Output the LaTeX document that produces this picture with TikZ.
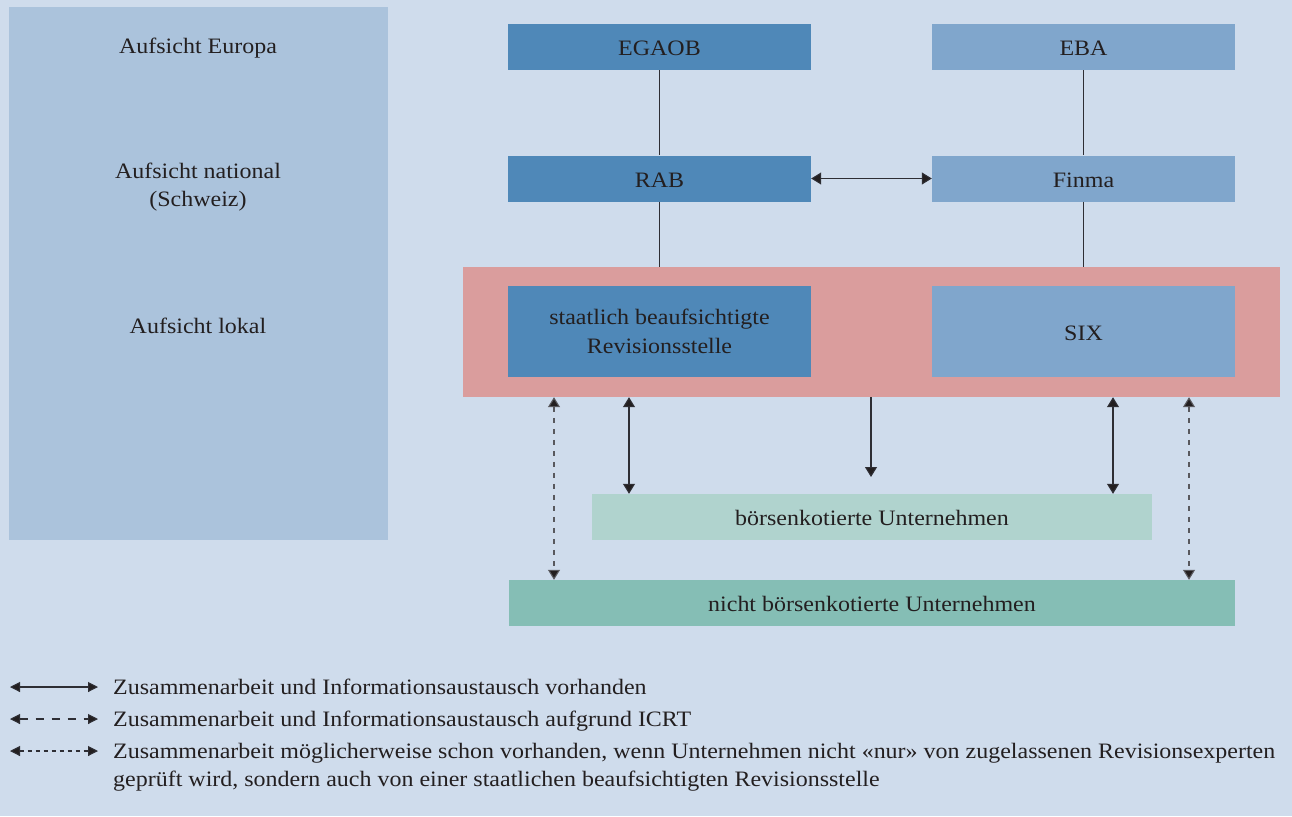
\documentclass[tikz,border=0pt]{standalone}
\usepackage{fontspec}
\setmainfont{Liberation Serif}[FakeStretch=1.09]
\usetikzlibrary{arrows.meta}
\definecolor{bg}{HTML}{CFDCEC}
\definecolor{panel}{HTML}{ABC3DC}
\definecolor{dblue}{HTML}{4F88B8}
\definecolor{lblue}{HTML}{80A6CC}
\definecolor{pink}{HTML}{DA9D9D}
\definecolor{mintl}{HTML}{B0D3CE}
\definecolor{mint}{HTML}{85BEB5}
\definecolor{txt}{HTML}{231F20}
\definecolor{ln}{HTML}{2E2E34}
\begin{document}
\begin{tikzpicture}[x=1pt,y=-1pt,
  lbl/.style={text=txt, font=\fontsize{22}{28.5}\selectfont, align=center, inner sep=0pt, text height=18pt, text depth=1pt},
  twoline/.style={text height=44pt},
  box/.style={lbl, minimum width=303pt, minimum height=46pt},
  conn/.style={draw=ln, line width=1.1pt},
  tipa/.tip={Triangle[length=10pt,width=12pt,fill=txt]},
  tipb/.tip={Triangle[length=10pt,width=10pt,fill=txt]},
  both/.style={conn, tipa-tipa},
  onearrow/.style={conn, -tipa},
  dotboth/.style={both, draw=ln!80, dash pattern=on 5pt off 6pt},
  legboth/.style={conn, tipb-tipb},
  legtext/.style={text=txt, font=\fontsize{22}{28}\selectfont, align=left, inner sep=0pt, anchor=base west}
]
\fill[bg] (0,0) rectangle (1292,816);
\useasboundingbox (0,0) rectangle (1292,816);

% left panel
\node[fill=panel, minimum width=379pt, minimum height=533pt, inner sep=0pt] (panel) at (198.5,273.5) {};
\node[lbl] (l1) at (198,45) {Aufsicht Europa};
\node[lbl, twoline] (l2) at (198,185) {Aufsicht national\\(Schweiz)};
\node[lbl] (l3) at (198,325) {Aufsicht lokal};

% pink local frame
\node[fill=pink, minimum width=817pt, minimum height=130pt, inner sep=0pt] (pinkbox) at (871.5,332) {};

% boxes
\node[box, fill=dblue] (egaob) at (659.5,47) {EGAOB};
\node[box, fill=lblue] (eba) at (1083.5,47) {EBA};
\node[box, fill=dblue] (rab) at (659.5,178.5) {RAB};
\node[box, fill=lblue] (finma) at (1083.5,178.5) {Finma};
\node[box, twoline, fill=dblue, minimum height=91pt] (staat) at (659.5,331.5) {staatlich beaufsichtigte\\Revisionsstelle};
\node[box, fill=lblue, minimum height=91pt] (six) at (1083.5,331.5) {SIX};
\node[box, fill=mintl, minimum width=560pt] (boers) at (872,517) {börsenkotierte Unternehmen};
\node[box, fill=mint, minimum width=726pt] (nicht) at (872,603) {nicht börsenkotierte Unternehmen};

% vertical connectors
\draw[conn] (egaob) -- (rab);
\draw[conn] (rab) -- (rab |- pinkbox.north);
\draw[conn] (eba) -- (finma);
\draw[conn] (finma) -- (finma |- pinkbox.north);
\draw[both] (rab) -- (finma);

% arrows below the local frame
\coordinate (xd1) at (554,0);
\coordinate (xs1) at (629,0);
\coordinate (xm) at (871,477);
\coordinate (xs2) at (1113,0);
\coordinate (xd2) at (1189,0);
\draw[dotboth] (pinkbox.south -| xd1) -- (nicht.north -| xd1);
\draw[both] (pinkbox.south -| xs1) -- (boers.north -| xs1);
\draw[onearrow] (pinkbox.south -| xm) -- (xm);
\draw[both] (pinkbox.south -| xs2) -- (boers.north -| xs2);
\draw[dotboth] (pinkbox.south -| xd2) -- (nicht.north -| xd2);

% legend
\coordinate (a1) at (10,687); \coordinate (b1) at (98,687);
\coordinate (a2) at (10,719); \coordinate (b2) at (98,719);
\coordinate (a3) at (10,751); \coordinate (b3) at (98,751);
\draw[legboth] (a1) -- (b1);
\draw[legboth, dash pattern=on 8pt off 8pt] (a2) -- (b2);
\draw[legboth, dash pattern=on 4pt off 4pt] (a3) -- (b3);
\node[legtext] (t1) at (113,694) {Zusammenarbeit und Informationsaustausch vorhanden};
\node[legtext] (t2) at (113,726) {Zusammenarbeit und Informationsaustausch aufgrund ICRT};
\node[legtext] (t3) at (113,786) {Zusammenarbeit möglicherweise schon vorhanden, wenn Unternehmen nicht «nur» von zugelassenen Revisionsexperten\\geprüft wird, sondern auch von einer staatlichen beaufsichtigten Revisionsstelle};
\end{tikzpicture}
\end{document}
